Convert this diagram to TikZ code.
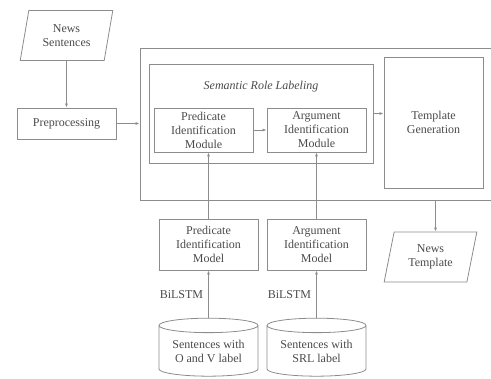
\documentclass[tikz,border=0pt]{standalone}
\usepackage{fontspec}
\setmainfont{Liberation Serif}
\usepackage{xcolor}
\usepackage{tikz}
\usetikzlibrary{
  arrows.meta,
  positioning,
  shapes.geometric
}
\definecolor{linegray}{HTML}{8C8C8C}
\definecolor{textgray}{HTML}{4A4A4A}

\begin{document}
\begin{tikzpicture}[x=1pt, y=-1pt,
    every node/.style={text=textgray, font=\fontsize{12}{14}\selectfont, align=center, inner sep=0pt},
    field/.style={draw=linegray, line width=0.8pt, rectangle},
    module/.style={field, minimum width=99pt, minimum height=44pt},
    model/.style={field, minimum width=99pt, minimum height=51pt},
    iobox/.style={draw=linegray, line width=0.8pt, trapezium, trapezium left angle=76, trapezium right angle=104,
      trapezium stretches=true, minimum width=93pt, minimum height=50pt},
    store/.style={draw=linegray, line width=0.8pt, cylinder, shape border rotate=90, aspect=0.2,
      minimum width=99pt, minimum height=58pt},
    flow/.style={draw=linegray, line width=0.8pt, -{Latex[length=4pt,width=3pt]}}]
\useasboundingbox (0,0) rectangle (491,379);

\node [iobox] (news) at (66.5,35.5) {News\\Sentences};
\node [field, minimum width=99pt, minimum height=31pt] (prep) at (66.5,123.5) {Preprocessing};

\node [field, minimum width=353pt, minimum height=152pt] (outer) at (316.5,124) {};
\node [field, minimum width=224pt, minimum height=99pt] (srl) at (261,113.5) {};
\node (srltitle) at (261,87) {\itshape Semantic Role Labeling};
\node [module] (predmod) at (203.5,130) {Predicate\\Identification\\Module};
\node [module] (argmod) at (316.5,130) {Argument\\Identification\\Module};
\node [field, minimum width=99pt, minimum height=131pt] (tmpl) at (433.5,122.5) {Template\\Generation};

\node [model] (predmodel) at (208.5,244.5) {Predicate\\Identification\\Model};
\node [model] (argmodel) at (316.5,244.5) {Argument\\Identification\\Model};

\node [store] (predcyl) at (208.5,351) {Sentences with\\O and V label};
\node [store] (argcyl) at (316.5,351) {Sentences with\\SRL label};

\node [iobox] (newst) at (430.5,257) {News\\Template};

% connectors
\draw [flow] (news) -- (prep);
\draw [flow] (prep.east) -- (prep.east -| outer.west);
\draw [flow] (predmod) -- (argmod);
\draw [flow] (srl.east) -- (srl.east -| tmpl.west);
\draw [flow] (predmodel.north) -- (predmodel.north |- predmod.south);
\draw [flow] (argmodel.north) -- (argmodel.north |- argmod.south);
\draw [flow] (predcyl.north) -- node [left=5pt] {BiLSTM} (predmodel.south);
\draw [flow] (argcyl.north) -- node [left=5pt] {BiLSTM} (argmodel.south);
\draw [flow] ([xshift=5pt]newst.north |- outer.south) -- ([xshift=5pt]newst.north);
\end{tikzpicture}
\end{document}
